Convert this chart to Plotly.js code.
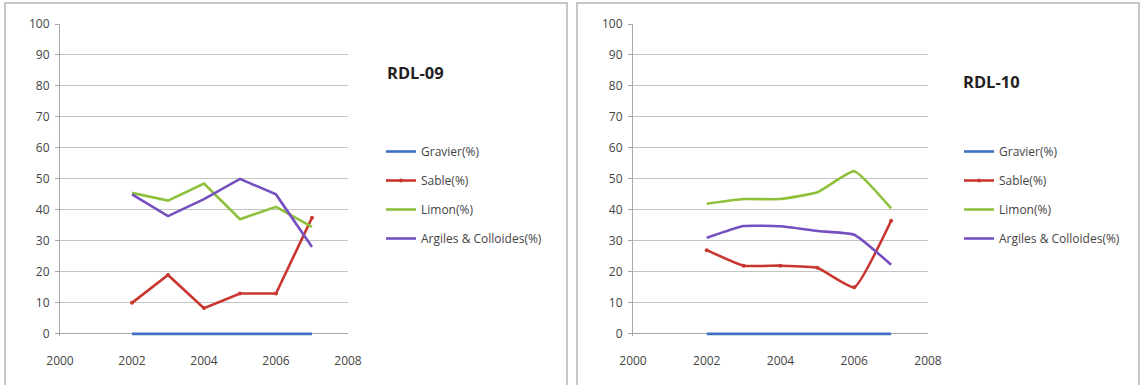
<!DOCTYPE html>
<html><head><meta charset="utf-8">
<script src="https://cdn.plot.ly/plotly-3.0.1.min.js"></script>
<style>html,body{margin:0;padding:0;background:#fff}#chart{width:1142px;height:385px}</style>
</head><body><div id="chart"></div>
<script>
const years = [2002, 2003, 2004, 2005, 2006, 2007];
const seriesNames = ["Gravier(%)", "Sable(%)", "Limon(%)", "Argiles & Colloides(%)"];
const titles = ["RDL-09", "RDL-10"];
// RDL-09
const gravier09 = [0, 0, 0, 0, 0, 0];
const sable09 = [10, 19, 8.3, 13, 13, 37.5];
const limon09 = [45.5, 43, 48.5, 37, 41, 34.5];
const argiles09 = [45, 38, 43.5, 50, 45, 28];
// RDL-10
const gravier10 = [0, 0, 0, 0, 0, 0];
const sable10 = [27, 22, 22, 21.3, 15, 36.5];
const limon10 = [42, 43.5, 43.5, 45.7, 52.5, 40.5];
const argiles10 = [31, 34.8, 34.7, 33.2, 32, 22.3];

const colors = ["#3f6fc4", "#c8372f", "#8fc03c", "#7650c0"];
const W = 1142, H = 385;
const font = "'Open Sans', Lato, sans-serif";

function mk(ys, i, xa, ya, leg, smooth) {
  return {
    x: years, y: ys, type: "scatter", mode: i === 1 ? "lines+markers" : "lines",
    name: seriesNames[i], xaxis: xa, yaxis: ya, legend: leg,
    legendgroup: leg + i,
    line: {color: colors[i], width: 2.6, shape: smooth ? "spline" : "linear", smoothing: 0.4},
    marker: {size: 4, color: colors[i]},
    hoverinfo: "skip"
  };
}
const data = [];
[gravier09, sable09, limon09, argiles09].forEach((s, i) => data.push(mk(s, i, "x", "y", "legend", false)));
[gravier10, sable10, limon10, argiles10].forEach((s, i) => data.push(mk(s, i, "x2", "y2", "legend2", true)));

const yTop = 1 - 24 / H, yBot = 1 - 336 / H;
function xax(d0, d1, anchor) {
  return {
    domain: [d0 / W, d1 / W], range: [2000, 2008], tickvals: [2000, 2002, 2004, 2006, 2008],
    showgrid: false, zeroline: false, showline: false, ticks: "", anchor: anchor,
    tickfont: {family: font, size: 12, color: "#444"}, ticklabelstandoff: 16, fixedrange: true
  };
}
function yax(anchor) {
  return {
    domain: [yBot, yTop], range: [-0.7, 100], tickvals: [0, 10, 20, 30, 40, 50, 60, 70, 80, 90, 100], anchor: anchor,
    showgrid: true, gridcolor: "#c4c4c4", gridwidth: 1, zeroline: true, zerolinecolor: "#a8a8a8", zerolinewidth: 1,
    showline: true, linecolor: "#a8a8a8", linewidth: 1, ticks: "outside", ticklen: 4, tickcolor: "#a8a8a8",
    tickfont: {family: font, size: 12, color: "#444"}, ticklabelstandoff: 3, fixedrange: true
  };
}
function legendAt(x, y) {
  return {
    x: x / W, y: 1 - y / H, xanchor: "left", yanchor: "top", bgcolor: "rgba(0,0,0,0)",
    font: {family: font, size: 12, color: "#444"}, tracegroupgap: 10, itemwidth: 30
  };
}
const layout = {
  width: W, height: H, margin: {l: 0, r: 0, t: 0, b: 0},
  paper_bgcolor: "#fff", plot_bgcolor: "rgba(0,0,0,0)", showlegend: true,
  xaxis: xax(60, 348, "y"), yaxis: yax("x"),
  xaxis2: xax(633, 928, "y2"), yaxis2: yax("x2"),
  legend: legendAt(381, 137), legend2: legendAt(959, 137),
  shapes: [
    {type: "rect", xref: "paper", yref: "paper", x0: 5 / W, x1: 567 / W, y0: -0.02, y1: 1 - 3 / H, line: {color: "#b5b5b5", width: 1.5}, fillcolor: "rgba(0,0,0,0)"},
    {type: "rect", xref: "paper", yref: "paper", x0: 577 / W, x1: 1139 / W, y0: -0.02, y1: 1 - 3 / H, line: {color: "#b5b5b5", width: 1.5}, fillcolor: "rgba(0,0,0,0)"}
  ],
  annotations: [
    {text: "<b>" + titles[0] + "</b>", xref: "paper", yref: "paper", x: 385 / W, y: 1 - 72 / H, xanchor: "left", yanchor: "middle", showarrow: false, font: {family: font, size: 16.5, color: "#222"}},
    {text: "<b>" + titles[1] + "</b>", xref: "paper", yref: "paper", x: 961 / W, y: 1 - 82 / H, xanchor: "left", yanchor: "middle", showarrow: false, font: {family: font, size: 16.5, color: "#222"}}
  ]
};
Plotly.newPlot("chart", data, layout, {staticPlot: true});
</script></body></html>
